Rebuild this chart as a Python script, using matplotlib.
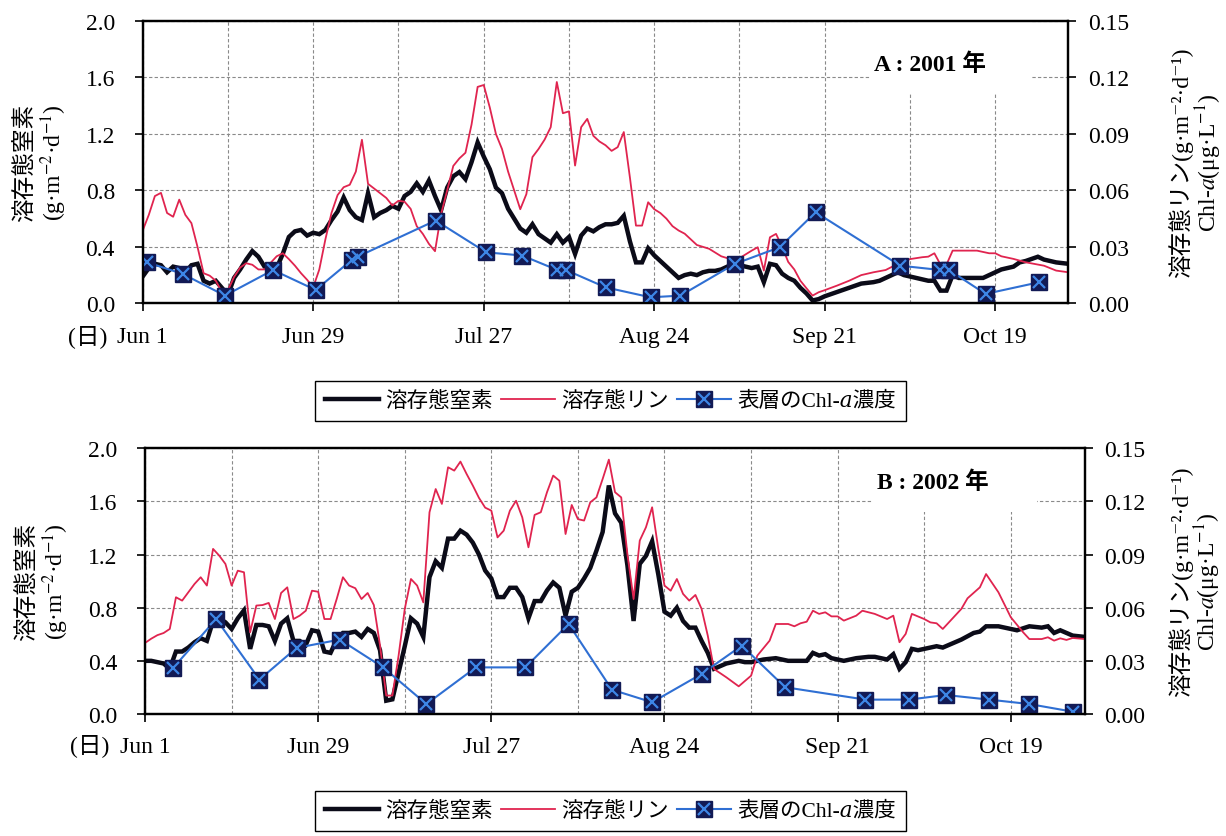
import numpy as np
import matplotlib
matplotlib.use('Agg')
import matplotlib.pyplot as plt
from matplotlib.lines import Line2D
from matplotlib.patches import Rectangle

plt.rcParams['font.family'] = ['Liberation Serif', 'Noto Sans CJK JP', 'DejaVu Serif',
                               'STIXGeneral', 'DejaVu Sans']
plt.rcParams['mathtext.fontset'] = 'stix'

# x values are days after Jun 1
tick_days = [0, 28, 56, 84, 112, 140]
tick_labels = ["Jun 1", "Jun 29", "Jul 27", "Aug 24", "Sep 21", "Oct 19"]

# ---- A: 2001 ----
a_n_days = [0, 1, 2, 3, 4, 5, 6, 7, 8, 9, 10, 11, 12, 13, 14, 15, 16, 17, 18, 19,
            20, 21, 22, 23, 24, 25, 26, 27, 28, 29, 30, 31, 32, 33, 34, 35, 36, 37, 38, 39,
            40, 41, 42, 43, 44, 45, 46, 47, 48, 49, 50, 51, 52, 53, 54, 55, 56, 57, 58, 59,
            60, 61, 62, 63, 64, 65, 66, 67, 68, 69, 70, 71, 72, 73, 74, 75, 76, 77, 78, 79,
            80, 81, 82, 83, 84, 85, 86, 87, 88, 89, 90, 91, 92, 93, 94, 95, 96, 97, 98, 99,
            100, 101, 102, 103, 104, 105, 106, 107, 108, 109, 110, 111, 112, 114, 116, 118,
            120, 121, 122, 124, 125, 127, 129, 130, 131, 132, 133, 134, 136, 138, 139, 140,
            141, 142, 143, 144, 145, 147, 148, 150, 152]
a_n_vals = [0.19, 0.25, 0.28, 0.27, 0.22, 0.26, 0.25, 0.22, 0.27, 0.28, 0.16, 0.14, 0.16,
            0.11, 0.06, 0.18, 0.24, 0.31, 0.37, 0.33, 0.26, 0.24, 0.25, 0.35, 0.47, 0.51,
            0.52, 0.48, 0.50, 0.49, 0.52, 0.59, 0.65, 0.75, 0.66, 0.61, 0.59, 0.78, 0.61,
            0.64, 0.66, 0.69, 0.67, 0.76, 0.79, 0.85, 0.79, 0.87, 0.76, 0.66, 0.82, 0.90,
            0.93, 0.88, 1.00, 1.14, 1.04, 0.95, 0.82, 0.78, 0.67, 0.60, 0.53, 0.50, 0.56,
            0.49, 0.46, 0.43, 0.49, 0.43, 0.47, 0.35, 0.48, 0.53, 0.51, 0.54, 0.56, 0.56,
            0.57, 0.62, 0.44, 0.29, 0.29, 0.39, 0.34, 0.30, 0.26, 0.22, 0.18, 0.20, 0.21,
            0.20, 0.22, 0.23, 0.23, 0.24, 0.26, 0.28, 0.27, 0.26, 0.25, 0.26, 0.15, 0.28,
            0.27, 0.21, 0.18, 0.16, 0.11, 0.07, 0.02, 0.03, 0.05, 0.08, 0.11, 0.14, 0.15,
            0.16, 0.18, 0.22, 0.20, 0.18, 0.16, 0.16, 0.09, 0.09, 0.20, 0.18, 0.18, 0.18,
            0.20, 0.22, 0.24, 0.25, 0.26, 0.29, 0.30, 0.33, 0.31, 0.29, 0.28]

a_p_days = [0, 1, 2, 3, 4, 5, 6, 7, 8, 9, 10, 11, 12, 13, 14, 15, 16, 17, 18, 19,
            20, 21, 22, 23, 24, 25, 26, 27, 28, 29, 30, 31, 32, 33, 34, 35, 36, 37, 38, 39,
            40, 41, 42, 43, 44, 45, 46, 47, 48, 49, 50, 51, 52, 53, 54, 55, 56, 57, 58, 59,
            60, 61, 62, 63, 64, 65, 66, 67, 68, 69, 70, 71, 72, 73, 74, 75, 76, 77, 78, 79,
            80, 81, 82, 83, 84, 85, 86, 87, 88, 89, 90, 91, 92, 93, 94, 95, 96, 97, 98, 99,
            100, 101, 102, 103, 104, 105, 106, 107, 108, 109, 110, 111, 112, 114, 116, 118,
            120, 122, 124, 126, 128, 129, 130, 131, 132, 133, 135, 137, 139, 140, 141, 143,
            145, 148, 150, 152]
a_p_vals = [0.0387, 0.0470, 0.0570, 0.0587, 0.0480, 0.0460, 0.0551, 0.0470, 0.0426, 0.0300,
            0.0160, 0.0147, 0.0120, 0.0060, 0.0070, 0.0140, 0.0190, 0.0213, 0.0205, 0.0180,
            0.0180, 0.0215, 0.0250, 0.0266, 0.0235, 0.0200, 0.0160, 0.0125, 0.0085, 0.0180,
            0.0340, 0.0480, 0.0575, 0.0617, 0.0630, 0.0700, 0.0869, 0.0635, 0.0610, 0.0585,
            0.0560, 0.0520, 0.0545, 0.0540, 0.0502, 0.0410, 0.0369, 0.0316, 0.0277, 0.0475,
            0.0600, 0.0730, 0.0770, 0.0800, 0.0950, 0.1150, 0.1160, 0.1040, 0.0900, 0.0820,
            0.0700, 0.0600, 0.0500, 0.0580, 0.0777, 0.0820, 0.0870, 0.0936, 0.1176, 0.1010,
            0.1020, 0.0732, 0.0936, 0.0980, 0.0890, 0.0860, 0.0840, 0.0810, 0.0830, 0.0910,
            0.0670, 0.0413, 0.0413, 0.0537, 0.0500, 0.0480, 0.0450, 0.0410, 0.0387, 0.0370,
            0.0340, 0.0310, 0.0300, 0.0290, 0.0270, 0.0250, 0.0240, 0.0227, 0.0240, 0.0260,
            0.0280, 0.0298, 0.0174, 0.0351, 0.0369, 0.0300, 0.0220, 0.0180, 0.0120, 0.0080,
            0.0041, 0.0059, 0.0070, 0.0094, 0.0120, 0.0150, 0.0165, 0.0177, 0.0210, 0.0235,
            0.0245, 0.0248, 0.0266, 0.0206, 0.0206, 0.0280, 0.0280, 0.0280, 0.0266, 0.0266,
            0.0250, 0.0236, 0.0218, 0.0200, 0.0174, 0.0165]

a_chl_days = [0.7, 6.6, 13.5, 21.4, 28.4, 34.3, 35.3, 48.1, 56.4, 62.3, 68.1, 69.5,
              76.0, 83.4, 88.3, 97.2, 104.6, 110.5, 124.4, 131.0, 132.4, 138.4, 147.2]
a_chl_vals = [0.0218, 0.0156, 0.0041, 0.0177, 0.0071, 0.0230, 0.0248, 0.0440, 0.0271,
              0.0254, 0.0177, 0.0177, 0.0085, 0.0032, 0.0041, 0.0209, 0.0298, 0.0484,
              0.0200, 0.0177, 0.0177, 0.0050, 0.0112]

# ---- B: 2002 ----
b_n_days = [0, 1, 2, 3, 4, 5, 6, 7, 8, 9, 10, 11, 12, 13, 14, 15, 16, 17, 18, 19,
            20, 21, 22, 23, 24, 25, 26, 27, 28, 29, 30, 31, 32, 33, 34, 35, 36, 37, 38, 39,
            40, 41, 42, 43, 44, 45, 46, 47, 48, 49, 50, 51, 52, 53, 54, 55, 56, 57, 58, 59,
            60, 61, 62, 63, 64, 65, 66, 67, 68, 69, 70, 71, 72, 73, 74, 75, 76, 77, 78, 79,
            80, 81, 82, 83, 84, 85, 86, 87, 88, 89, 90, 91, 92, 93, 94, 95, 96, 97, 98, 99,
            100, 102, 104, 106, 107, 108, 109, 110, 111, 113, 115, 117, 118, 120, 121, 122,
            123, 124, 125, 128, 129, 132, 134, 135, 136, 138, 140, 141, 143, 145, 146, 147,
            148, 149, 150, 152]
b_n_vals = [0.40, 0.40, 0.39, 0.38, 0.34, 0.47, 0.47, 0.50, 0.54, 0.57, 0.55, 0.70, 0.72,
            0.69, 0.64, 0.72, 0.78, 0.49, 0.67, 0.67, 0.66, 0.55, 0.68, 0.72, 0.55, 0.55,
            0.52, 0.63, 0.62, 0.47, 0.46, 0.56, 0.61, 0.61, 0.62, 0.58, 0.64, 0.61, 0.48,
            0.10, 0.11, 0.31, 0.51, 0.72, 0.68, 0.58, 1.03, 1.15, 1.10, 1.32, 1.32, 1.38,
            1.35, 1.29, 1.20, 1.08, 1.02, 0.88, 0.88, 0.95, 0.95, 0.88, 0.72, 0.85, 0.85,
            0.93, 0.99, 0.95, 0.74, 0.92, 0.95, 1.02, 1.10, 1.23, 1.37, 1.72, 1.51, 1.44,
            1.12, 0.70, 1.13, 1.19, 1.30, 1.05, 0.77, 0.74, 0.80, 0.70, 0.65, 0.65, 0.55,
            0.46, 0.34, 0.36, 0.38, 0.39, 0.40, 0.39, 0.39, 0.40, 0.41, 0.42, 0.40, 0.40,
            0.40, 0.46, 0.44, 0.45, 0.42, 0.40, 0.42, 0.43, 0.43, 0.41, 0.45, 0.34, 0.39,
            0.49, 0.48, 0.51, 0.50, 0.56, 0.61, 0.62, 0.66, 0.66, 0.64, 0.63, 0.66, 0.65,
            0.66, 0.61, 0.63, 0.61, 0.59, 0.58]

b_p_days = [0, 1, 2, 3, 4, 5, 6, 7, 8, 9, 10, 11, 12, 13, 14, 15, 16, 17, 18, 19,
            20, 21, 22, 23, 24, 25, 26, 27, 28, 29, 30, 31, 32, 33, 34, 35, 36, 37, 38, 39,
            40, 41, 42, 43, 44, 45, 46, 47, 48, 49, 50, 51, 52, 53, 54, 55, 56, 57, 58, 59,
            60, 61, 62, 63, 64, 65, 66, 67, 68, 69, 70, 71, 72, 73, 74, 75, 76, 77, 78, 79,
            80, 81, 82, 83, 84, 85, 86, 87, 88, 89, 90, 91, 92, 94, 96, 98, 99, 101, 102,
            104, 105, 106, 107, 108, 109, 110, 111, 112, 113, 115, 116, 118, 120, 121, 122,
            123, 124, 126, 127, 128, 129, 132, 133, 135, 136, 138, 140, 142, 143, 145, 146,
            147, 148, 149, 150, 152]
b_p_vals = [0.0401, 0.0425, 0.0445, 0.0457, 0.0480, 0.0659, 0.0640, 0.0687, 0.0734, 0.0772,
            0.0725, 0.0932, 0.0894, 0.0847, 0.0725, 0.0809, 0.0800, 0.0461, 0.0612, 0.0615,
            0.0627, 0.0536, 0.0683, 0.0715, 0.0536, 0.0555, 0.0583, 0.0696, 0.0690, 0.0536,
            0.0536, 0.0650, 0.0772, 0.0725, 0.0710, 0.0649, 0.0683, 0.0615, 0.0386, 0.0104,
            0.0104, 0.0329, 0.0593, 0.0762, 0.0725, 0.0630, 0.1139, 0.1270, 0.1186, 0.1393,
            0.1374, 0.1425, 0.1355, 0.1290, 0.1220, 0.1165, 0.1148, 0.0997, 0.1035, 0.1148,
            0.1204, 0.1110, 0.0941, 0.1124, 0.1139, 0.1252, 0.1346, 0.1317, 0.1016, 0.1180,
            0.1100, 0.1092, 0.1195, 0.1223, 0.1327, 0.1436, 0.1252, 0.1223, 0.0903, 0.0649,
            0.0979, 0.1054, 0.1167, 0.0932, 0.0725, 0.0696, 0.0762, 0.0678, 0.0640, 0.0672,
            0.0593, 0.0442, 0.0254, 0.0207, 0.0156, 0.0216, 0.0329, 0.0414, 0.0508, 0.0508,
            0.0495, 0.0512, 0.0521, 0.0583, 0.0565, 0.0574, 0.0551, 0.0551, 0.0527, 0.0555,
            0.0583, 0.0565, 0.0536, 0.0555, 0.0405, 0.0452, 0.0565, 0.0536, 0.0517, 0.0512,
            0.0480, 0.0593, 0.0653, 0.0715, 0.0790, 0.0687, 0.0546, 0.0461, 0.0423, 0.0423,
            0.0433, 0.0414, 0.0427, 0.0418, 0.0429, 0.0423]

b_chl_days = [4.5, 11.5, 18.5, 24.5, 31.5, 38.5, 45.5, 53.5, 61.5, 68.5, 75.5, 82.0,
              90.0, 96.5, 103.5, 116.5, 123.5, 129.5, 136.5, 143.0, 150.0]
b_chl_vals = [0.0258, 0.0536, 0.0194, 0.0373, 0.0420, 0.0263, 0.0056, 0.0263, 0.0263,
              0.0508, 0.0137, 0.0066, 0.0226, 0.0386, 0.0151, 0.0081, 0.0081, 0.0107,
              0.0081, 0.0056, 0.0013]

N_COLOR = '#0b0b18'
P_COLOR = '#e0244f'
CHL_COLOR = '#2f6fd3'
SQ_COLOR = '#121a55'
X_COLOR = '#3d86e6'
GRID = dict(color='#8a8a8a', lw=0.8, ls=(0, (3, 2)))
FS = 17

# mathtext cannot draw CJK, so the lines with kana/kanji use plain unicode
N_LABEL = '溶存態窒素\n(g·m$^{-2}$·d$^{-1}$)'
P_LABEL = '溶存態リン(g·m⁻²·d⁻¹)\nChl-$a$(μg·L$^{-1}$)'
LEGEND_LABELS = ['溶存態窒素', '溶存態リン', '表層のChl-\U0001D44E濃度']


def draw_panel(fig, rect, n_days, n_vals, p_days, p_vals, c_days, c_vals,
               title, title_xy, box, rlabel_x):
    ax = fig.add_axes(rect)
    ax.plot(n_days, n_vals, color=N_COLOR, lw=3.2, solid_joinstyle='miter')
    ax.set_xlim(0, 152)
    ax.set_ylim(0, 2.0)
    ax.set_yticks(np.arange(0, 2.01, 0.4))
    ax.set_yticklabels(['%.1f' % v for v in np.arange(0, 2.01, 0.4)])
    ax.set_xticks(tick_days)
    ax.set_xticklabels(tick_labels)
    ax.set_xticks([14, 42, 70, 98, 126], minor=True)
    ax.grid(True, which='both', axis='x', **GRID)
    ax.grid(True, which='major', axis='y', **GRID)
    ax.tick_params(axis='x', which='major', length=6, width=1.2, pad=10, labelsize=FS)
    ax.tick_params(axis='x', which='minor', length=0)
    ax.tick_params(axis='y', length=6, width=1.2, pad=14, labelsize=FS)
    ax.set_ylabel(N_LABEL, fontsize=FS, labelpad=12, linespacing=1.05)
    ax.text(-0.038, -0.072, '(日)', transform=ax.transAxes, ha='right', va='top',
            fontsize=FS)
    # white block behind the panel label
    ax.add_patch(Rectangle((box[0], box[1]), box[2] - box[0], 1 - box[1],
                           transform=ax.transAxes, facecolor='white',
                           edgecolor='none', zorder=1.8))
    for s in ax.spines.values():
        s.set_linewidth(1.6)

    ax2 = ax.twinx()
    ax2.plot(p_days, p_vals, color=P_COLOR, lw=1.3)
    ax2.plot(c_days, c_vals, color=CHL_COLOR, lw=1.5)
    ax2.plot(c_days, c_vals, ls='none', marker='s', ms=12, mfc=SQ_COLOR, mec=SQ_COLOR)
    ax2.plot(c_days, c_vals, ls='none', marker='x', ms=9, mew=1.6, color=X_COLOR)
    ax2.set_ylim(0, 0.15)
    ax2.set_yticks(np.arange(0, 0.151, 0.03))
    ax2.set_yticklabels(['%.2f' % v for v in np.arange(0, 0.151, 0.03)])
    ax2.tick_params(axis='y', length=6, width=1.2, pad=8, labelsize=FS)
    ax2.set_ylabel(P_LABEL, fontsize=FS, linespacing=1.0)
    ax2.yaxis.set_label_coords(rlabel_x, 0.5)
    ax2.text(title_xy[0], title_xy[1], title, transform=ax2.transAxes,
             ha='center', va='center', fontsize=FS, fontweight='bold')
    for s in ax2.spines.values():
        s.set_linewidth(1.6)
    return ax, ax2


def add_legend(fig, y):
    handles = [
        Line2D([], [], color=N_COLOR, lw=3.2),
        Line2D([], [], color=P_COLOR, lw=1.3),
        (Line2D([], [], color=CHL_COLOR, lw=1.5, marker='s', ms=12,
                mfc=SQ_COLOR, mec=SQ_COLOR),
         Line2D([], [], ls='none', marker='x', ms=9, mew=1.6, color=X_COLOR)),
    ]
    leg = fig.legend(handles, LEGEND_LABELS, loc='center', bbox_to_anchor=(0.498, y),
                     ncol=3, fontsize=15.5, frameon=True, fancybox=False,
                     edgecolor='black', framealpha=1, handlelength=2.5,
                     handletextpad=0.3, columnspacing=0.4, borderpad=0.45,
                     borderaxespad=0)
    leg.get_frame().set_linewidth(1.0)


def main():
    fig = plt.figure(figsize=(12.26, 8.37), dpi=100)
    draw_panel(fig, [0.1164, 0.6364, 0.755, 0.3373],
               a_n_days, a_n_vals, a_p_days, a_p_vals, a_chl_days, a_chl_vals,
               'A : 2001 年', (0.851, 0.848), (0.786, 0.741, 0.961), 1.108)
    draw_panel(fig, [0.1183, 0.1458, 0.7667, 0.3174],
               b_n_days, b_n_vals, b_p_days, b_p_vals, b_chl_days, b_chl_vals,
               'B : 2002 年', (0.838, 0.873), (0.774, 0.760, 0.949), 1.088)
    add_legend(fig, 0.5197)
    add_legend(fig, 0.0299)
    fig.savefig('out.png', dpi=100)


if __name__ == '__main__':
    main()
